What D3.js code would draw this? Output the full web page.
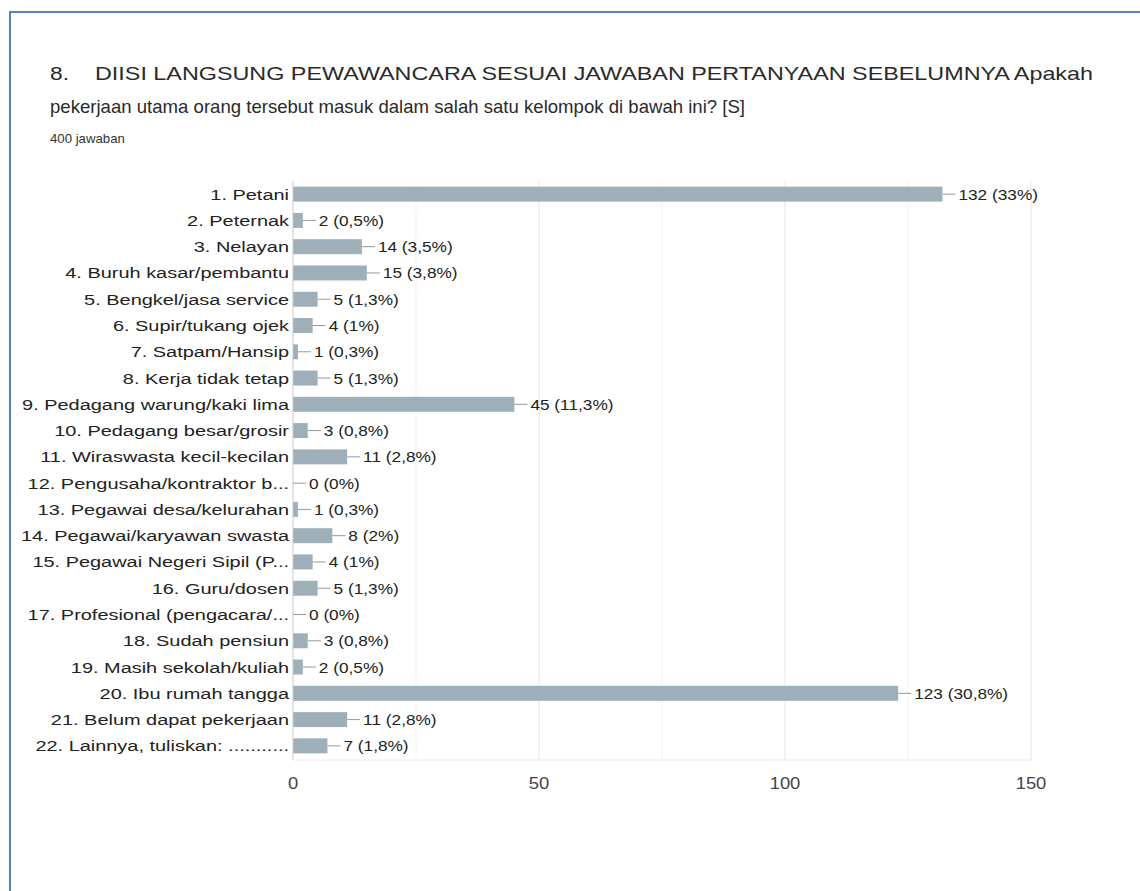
<!DOCTYPE html>
<meta charset="utf-8">
<style>
  body { margin: 0; background: #fff; }
  svg { display: block; font-family: "Liberation Sans", Arial, sans-serif; }
</style>
<svg width="1140" height="891"></svg>
<script src="https://cdn.jsdelivr.net/npm/d3@7"></script>
<script>

// data
var categories = [
  "1. Petani", "2. Peternak", "3. Nelayan", "4. Buruh kasar/pembantu",
  "5. Bengkel/jasa service", "6. Supir/tukang ojek", "7. Satpam/Hansip",
  "8. Kerja tidak tetap", "9. Pedagang warung/kaki lima", "10. Pedagang besar/grosir",
  "11. Wiraswasta kecil-kecilan", "12. Pengusaha/kontraktor b...", "13. Pegawai desa/kelurahan",
  "14. Pegawai/karyawan swasta", "15. Pegawai Negeri Sipil (P...", "16. Guru/dosen",
  "17. Profesional (pengacara/...", "18. Sudah pensiun", "19. Masih sekolah/kuliah",
  "20. Ibu rumah tangga", "21. Belum dapat pekerjaan", "22. Lainnya, tuliskan: ..........."
];
var counts  = [132, 2, 14, 15, 5, 4, 1, 5, 45, 3, 11, 0, 1, 8, 4, 5, 0, 3, 2, 123, 11, 7];
var percents = [33, 0.5, 3.5, 3.8, 1.3, 1, 0.3, 1.3, 11.3, 0.8, 2.8, 0, 0.3, 2, 1, 1.3, 0, 0.8, 0.5, 30.8, 2.8, 1.8];
var majorTicks = [0, 50, 100, 150];
var minorTicks = [25, 75, 125];

var titleNum = "8.";
var titleLine1 = "DIISI LANGSUNG PEWAWANCARA SESUAI JAWABAN PERTANYAAN SEBELUMNYA Apakah";
var titleLine2 = "pekerjaan utama orang tersebut masuk dalam salah satu kelompok di bawah ini? [S]";
var subtitle = "400 jawaban";

var svg = d3.select("svg");

// frame (left + top edge)
svg.append("path")
    .attr("d", "M10,891 V12 H1140")
    .attr("fill", "none")
    .attr("stroke", "#5b80c2")
    .attr("stroke-width", 2);

// text helper: stretched horizontally like the screenshot
function stext(parent, x, y, str, size, sx, anchor, color) {
  return parent.append("text")
      .attr("transform", "translate(" + x + "," + y + ") scale(" + sx + ",1)")
      .attr("font-size", size)
      .attr("text-anchor", anchor || "start")
      .attr("fill", color || "#222")
      .text(str);
}

// title
stext(svg, 50, 80, titleNum, 19, 1.2, "start", "#2a2a2a");
svg.append("text")
    .attr("x", 95).attr("y", 80)
    .attr("font-size", 19).attr("fill", "#2a2a2a")
    .attr("textLength", 998).attr("lengthAdjust", "spacingAndGlyphs")
    .text(titleLine1);
svg.append("text")
    .attr("x", 50).attr("y", 113)
    .attr("font-size", 19).attr("fill", "#2a2a2a")
    .attr("textLength", 695).attr("lengthAdjust", "spacingAndGlyphs")
    .text(titleLine2);
stext(svg, 50, 143, subtitle, 12, 1.1, "start", "#333");

// scales
var x = d3.scaleLinear().domain([0, 150]).range([293, 1031]);
var y = d3.scaleBand().domain(categories).range([181, 759])
    .paddingInner(0.43).paddingOuter(0.215);

var grid = svg.append("g");
grid.selectAll("line.minor")
    .data(minorTicks)
    .enter().append("line")
      .attr("class", "minor")
      .attr("x1", function(d) { return x(d); })
      .attr("x2", function(d) { return x(d); })
      .attr("y1", 181).attr("y2", 760)
      .attr("stroke", "#f3f3f3");
grid.selectAll("line.major")
    .data(majorTicks.slice(1))
    .enter().append("line")
      .attr("class", "major")
      .attr("x1", function(d) { return x(d); })
      .attr("x2", function(d) { return x(d); })
      .attr("y1", 181).attr("y2", 760)
      .attr("stroke", "#e6e6e6");
grid.append("line")
    .attr("x1", x(0)).attr("x2", x(150))
    .attr("y1", 760).attr("y2", 760)
    .attr("stroke", "#ececec");

// tick labels
majorTicks.forEach(function(t) {
  stext(svg, x(t), 789, String(t), 16, 1.15, "middle", "#444");
});

// bars
var data = categories.map(function(c, i) { return {cat: c, n: counts[i], pct: percents[i]}; });

svg.append("g").selectAll("rect")
    .data(data)
    .enter().append("rect")
      .attr("x", x(0))
      .attr("y", function(d) { return y(d.cat); })
      .attr("width", function(d) { return x(d.n) - x(0); })
      .attr("height", y.bandwidth())
      .attr("fill", "#9fafba");

// zero axis
svg.append("line")
    .attr("x1", x(0)).attr("x2", x(0))
    .attr("y1", 181).attr("y2", 760)
    .attr("stroke", "#c8c8c8");

// connectors + value labels
var lab = svg.append("g");
data.forEach(function(d) {
  var cy = y(d.cat) + y.bandwidth() / 2;
  var xe = x(d.n);
  lab.append("line")
      .attr("x1", xe).attr("x2", xe + 13)
      .attr("y1", cy).attr("y2", cy)
      .attr("stroke", "#999");
  var pctText = String(d.pct).replace(".", ",");
  stext(lab, xe + 16, cy + 5.5, d.n + " (" + pctText + "%)", 15, 1.15, "start", "#222");
  stext(lab, x(0) - 4, cy + 5.5, d.cat, 15, 1.33, "end", "#222");
});

</script>
